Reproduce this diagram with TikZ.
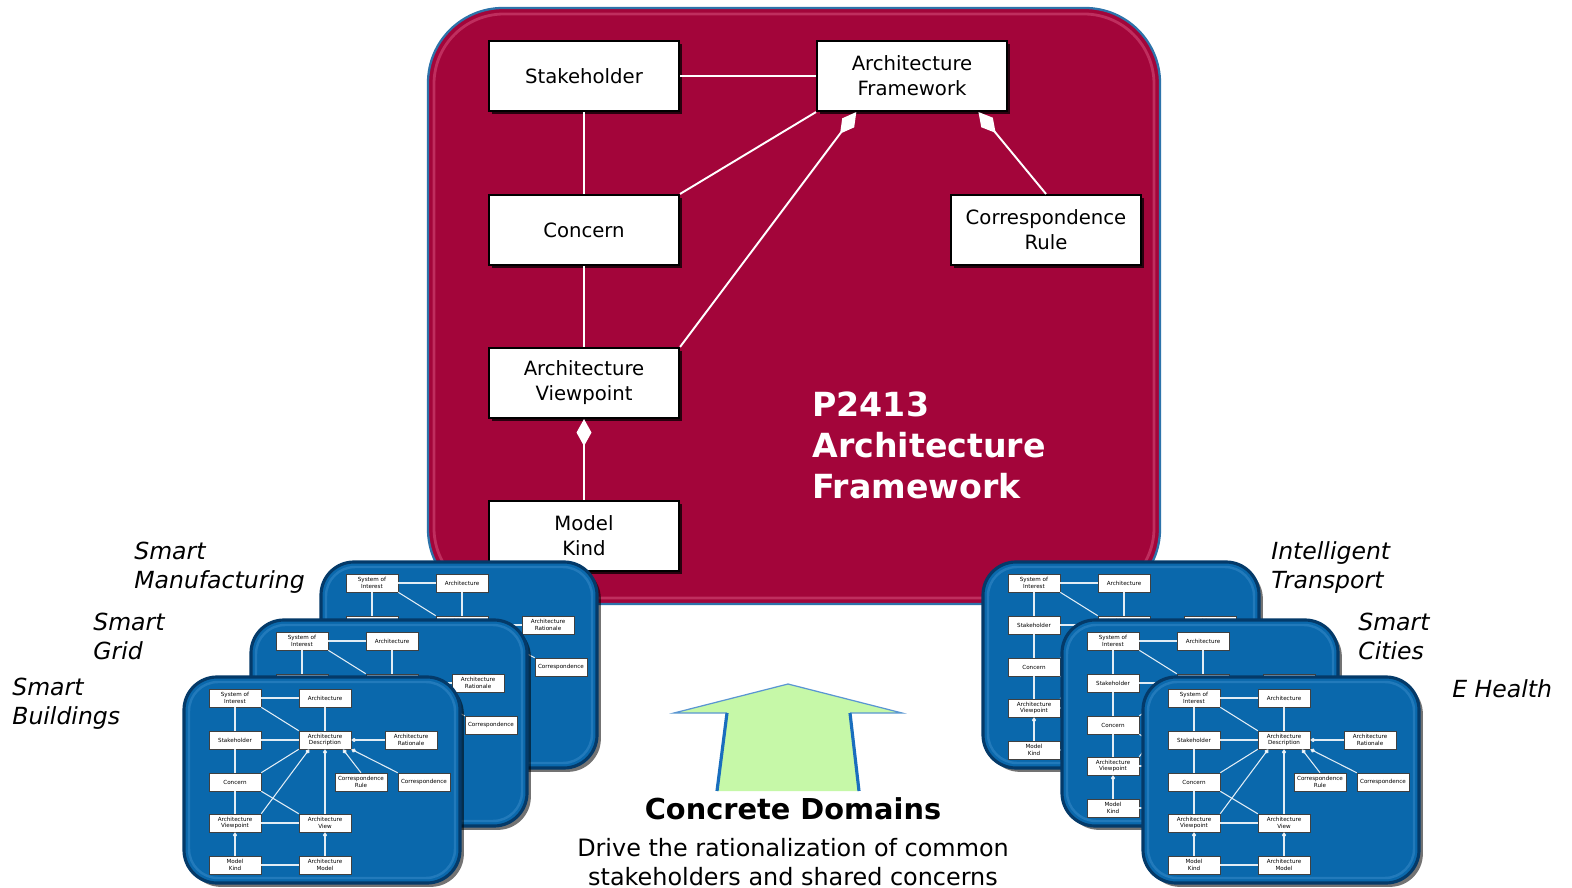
\documentclass[tikz,border=0pt]{standalone}
\usepackage{fontspec}
\setmainfont{DejaVu Sans}
\usetikzlibrary{arrows.meta,shadows,calc}

\definecolor{afred}{RGB}{163,5,58}
\definecolor{afredrim}{RGB}{215,80,125}
\definecolor{afblue}{RGB}{45,115,170}
\definecolor{cardblue}{RGB}{10,104,172}
\definecolor{cardedge}{RGB}{4,58,105}
\definecolor{cardglow}{RGB}{70,150,210}
\definecolor{arrowgreen}{RGB}{198,248,168}
\definecolor{arrowline}{RGB}{25,110,190}
\definecolor{arrowthin}{RGB}{90,150,210}

\tikzset{
  mainbox/.style={draw=black, line width=1.2pt, fill=white,
    minimum width=3.8cm, minimum height=1.4cm, align=center, inner sep=1pt,
    font=\fontsize{11.2}{14.2}\selectfont,
    drop shadow={shadow xshift=1.6pt, shadow yshift=-1.6pt, opacity=0.75, fill=black}},
  mainlink/.style={draw=white, line width=1.1pt},
  maindia/.style={{Diamond[fill=white,length=0.54cm,width=0.3cm]}-},
  minibox/.style={draw=black!75, line width=0.3pt, fill=white,
    minimum width=1.04cm, minimum height=0.36cm, align=center, inner sep=0.5pt,
    font=\fontsize{3.2}{3.9}\selectfont,
    drop shadow={shadow xshift=0.5pt, shadow yshift=-0.5pt, opacity=0.5, fill=black}},
  minilink/.style={draw=white!88!cardblue, line width=0.6pt},
  minidia/.style={{Diamond[fill=white,length=3.2pt,width=2.4pt]}-},
  domainlabel/.style={font=\fontsize{13.4}{16.4}\selectfont\itshape, align=left,
    anchor=west, inner sep=0pt},
  % one glossy blue card holding the small architecture description model
  domaincard/.pic={
    \path[fill=cardblue, rounded corners=0.66cm,
      drop shadow={shadow xshift=2.2pt, shadow yshift=-2.2pt, opacity=0.55, fill=black}]
      (0,0) rectangle (276,206);
    \draw[cardglow, line width=1.4pt, opacity=0.4, rounded corners=0.58cm]
      (5,5) rectangle (271,201);
    \draw[cardedge, line width=1.8pt, rounded corners=0.66cm]
      (0,0) rectangle (276,206);
    \node[minibox] (-soi)  at (51,21)  {System of\\Interest};
    \node[minibox] (-arch) at (141,21) {Architecture};
    \node[minibox] (-sh)   at (51,63)  {Stakeholder};
    \node[minibox] (-ad)   at (141,63) {Architecture\\Description};
    \node[minibox] (-ar)   at (227,63) {Architecture\\Rationale};
    \node[minibox] (-con)  at (51,105) {Concern};
    \node[minibox] (-cr)   at (177,105) {Correspondence\\Rule};
    \node[minibox] (-corr) at (240,105) {Correspondence};
    \node[minibox] (-vp)   at (51,146) {Architecture\\Viewpoint};
    \node[minibox] (-view) at (141,146) {Architecture\\View};
    \node[minibox] (-mk)   at (51,188) {Model\\Kind};
    \node[minibox] (-am)   at (141,188) {Architecture\\Model};
    \draw[minilink] (-soi) -- (-arch);
    \draw[minilink] (-soi) -- (-sh);
    \draw[minilink] (-soi.south east) -- (-ad.north west);
    \draw[minilink] (-arch) -- (-ad);
    \draw[minilink] (-sh) -- (-ad);
    \draw[minilink] (-sh) -- (-con);
    \draw[minilink] (-con.north east) -- (-ad.south west);
    \draw[minilink,minidia] (-ad) -- (-ar);
    \draw[minilink,minidia] ($(-ad.south west)!0.2!(-ad.south east)$) -- (-vp.north east);
    \draw[minilink,minidia] (-ad) -- (-view);
    \draw[minilink,minidia] ($(-ad.south west)!0.84!(-ad.south east)$) -- (-cr.north);
    \draw[minilink,minidia] (-ad.south east) -- (-corr.north west);
    \draw[minilink] (-con) -- (-vp);
    \draw[minilink] (-con.south east) -- (-view.north west);
    \draw[minilink] (-vp) -- (-view);
    \draw[minilink,minidia] (-vp) -- (-mk);
    \draw[minilink,minidia] (-view) -- (-am);
    \draw[minilink] (-mk) -- (-am);
  }
}

\begin{document}
\begin{tikzpicture}[x=0.02cm, y=-0.02cm]
\useasboundingbox[fill=white] (0,0) rectangle (1572,888);

% P2413 framework panel
\path[fill=afred, draw=afblue, line width=1.3pt, rounded corners=1.5cm]
  (428,8) rectangle (1160,604);
\draw[afredrim, line width=1.6pt, opacity=0.55, rounded corners=1.4cm]
  (434,14) rectangle (1154,598);

\node[mainbox] (sh)  at (584,76)   {Stakeholder};
\node[mainbox] (af)  at (912,76)   {Architecture\\Framework};
\node[mainbox] (con) at (584,230)  {Concern};
\node[mainbox] (cr)  at (1046,230) {Correspondence\\Rule};
\node[mainbox] (vp)  at (584,383)  {Architecture\\Viewpoint};
\node[mainbox] (mk)  at (584,536)  {Model\\Kind};

\draw[mainlink] (sh) -- (af);
\draw[mainlink] (sh) -- (con);
\draw[mainlink] (con.north east) -- (af.south west);
\draw[mainlink] (con) -- (vp);
\draw[mainlink,maindia] ($(af.south west)!0.21!(af.south east)$) -- (vp.north east);
\draw[mainlink,maindia] ($(af.south west)!0.846!(af.south east)$) -- (cr.north);
\draw[mainlink,maindia] (vp) -- (mk);

\node[anchor=west, inner sep=0pt, align=left, text=white,
  font=\fontsize{18.9}{23.3}\selectfont\bfseries] (title) at (812,445)
  {P2413\\Architecture\\Framework};

% domain cards, back to front
\pic (cl1) at (321,562)  {domaincard};
\pic (cl2) at (251,620)  {domaincard};
\pic (cl3) at (184,677)  {domaincard};
\pic (cr1) at (983,562)  {domaincard};
\pic (cr2) at (1062,620) {domaincard};
\pic (cr3) at (1143,677) {domaincard};

\node[domainlabel] (lmanu) at (134,567.5) {Smart\\Manufacturing};
\node[domainlabel] (lgrid) at (93,636.5)  {Smart\\Grid};
\node[domainlabel] (lbuil) at (12,703.5)  {Smart\\Buildings};
\node[domainlabel] (ltran) at (1271,567.5) {Intelligent\\Transport};
\node[domainlabel] (lcity) at (1358,636.5) {Smart\\Cities};
\node[domainlabel] (lheal) at (1452,689)   {E Health};

% upward arrow from the concrete domains
\fill[arrowgreen] (788,684) -- (674,713) -- (727,713) -- (717,791) -- (859,791)
  -- (850,713) -- (902,713) -- cycle;
\draw[arrowthin, line width=0.7pt] (727,713) -- (674,713) -- (788,684)
  -- (902,713) -- (850,713);
\draw[arrowline, line width=1.8pt] (727,713) -- (717,791);
\draw[arrowline, line width=1.8pt] (850,713) -- (859,791);

\node[font=\fontsize{16.4}{19}\selectfont\bfseries, inner sep=0pt] (cdom) at (793,809)
  {Concrete Domains};
\node[font=\fontsize{13.6}{16.4}\selectfont, align=center, inner sep=0pt] (cdesc)
  at (793,862) {Drive the rationalization of common\\stakeholders and shared concerns};
\end{tikzpicture}
\end{document}
